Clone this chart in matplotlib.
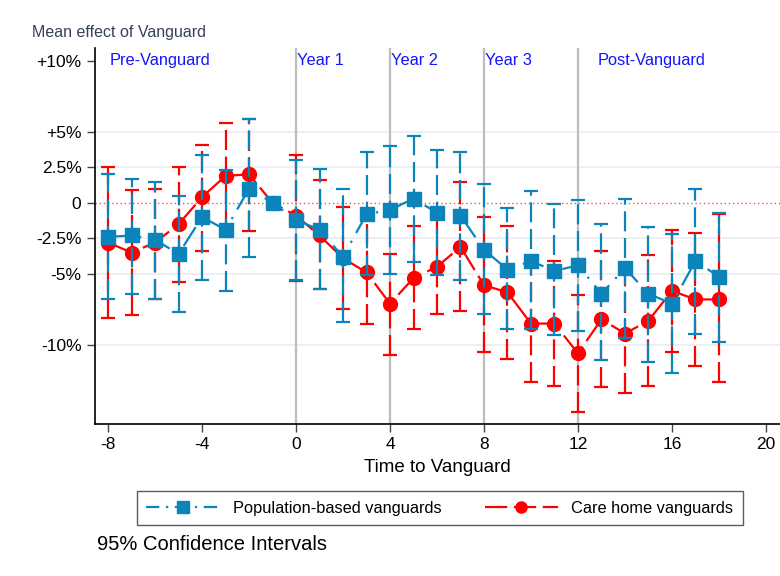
import numpy as np
import matplotlib
matplotlib.use("Agg")
from matplotlib import pyplot as plt
from matplotlib.lines import Line2D

plt.rcParams['font.family'] = ['Liberation Sans', 'DejaVu Sans']
plt.rcParams['axes.unicode_minus'] = False

# event time relative to vanguard start
time = [-8, -7, -6, -5, -4, -3, -2, -1, 0, 1, 2, 3, 4, 5, 6, 7, 8, 9, 10, 11, 12, 13, 14, 15, 16, 17, 18]

# population-based vanguards (%), with 95% CI
pop_est = [-2.4, -2.3, -2.6, -3.6, -1.0, -1.9, 1.0, 0.0, -1.2, -1.9, -3.8, -0.8, -0.5, 0.3, -0.7, -0.9,
           -3.3, -4.7, -4.1, -4.8, -4.4, -6.4, -4.6, -6.4, -7.1, -4.1, -5.2]
pop_lo = [-6.8, -6.4, -6.8, -7.7, -5.4, -6.2, -3.8, 0.0, -5.4, -6.1, -8.4, -5.1, -5.0, -4.2, -5.1, -5.4,
          -7.8, -8.9, -8.9, -9.3, -9.0, -11.1, -9.5, -11.2, -12.0, -9.2, -9.8]
pop_hi = [2.0, 1.7, 1.5, 0.5, 3.4, 2.3, 5.9, 0.0, 3.0, 2.4, 1.0, 3.6, 4.0, 4.7, 3.7, 3.6,
          1.3, -0.4, 0.8, -0.1, 0.2, -1.5, 0.3, -1.7, -2.2, 1.0, -0.7]

# care home vanguards (%), with 95% CI
care_est = [-2.8, -3.5, -2.8, -1.5, 0.4, 1.9, 2.0, 0.0, -0.9, -2.3, -3.9, -4.9, -7.1, -5.3, -4.5, -3.1,
            -5.8, -6.3, -8.5, -8.5, -10.6, -8.2, -9.2, -8.3, -6.2, -6.8, -6.8]
care_lo = [-8.1, -7.9, -6.8, -5.6, -3.4, -1.9, -2.0, 0.0, -5.5, -6.1, -7.5, -8.5, -10.7, -8.9, -7.8, -7.6,
           -10.5, -11.0, -12.6, -12.9, -14.7, -13.0, -13.4, -12.9, -10.5, -11.5, -12.6]
care_hi = [2.5, 0.9, 1.0, 2.5, 4.1, 5.6, 5.9, 0.0, 3.4, 1.6, -0.3, -1.2, -3.6, -1.6, -1.1, 1.5,
           -1.0, -1.6, -4.4, -4.1, -6.5, -3.4, -4.9, -3.7, -1.9, -2.1, -0.8]

yticks = [10, 5, 2.5, 0, -2.5, -5, -10]
ytick_labels = ['+10%', '+5%', '2.5%', '0', '-2.5%', '-5%', '-10%']
xticks = [-8, -4, 0, 4, 8, 12, 16, 20]
period_starts = [0, 4, 8, 12]
period_labels = ['Pre-Vanguard', 'Year 1', 'Year 2', 'Year 3', 'Post-Vanguard']
period_label_x = [-8, 0, 4, 8, 12.8]

blue = '#0a84ba'
red = '#ff0000'

fig = plt.figure(figsize=(7.8, 5.76), dpi=100)
ax = fig.add_axes([0.1214, 0.2644, 0.8786, 0.6523])

for y in [5, 2.5, -2.5, -5, -10]:
    ax.axhline(y, color='#e6eef1', lw=1.2, zorder=0)
for x in period_starts:
    ax.axvline(x, color='#bdbdbd', lw=1.6, zorder=1)
ax.axhline(0, color='#ff5050', lw=1, ls=(0, (1, 2)), zorder=1)

t = np.array(time)
mask = t != -1

def draw_series(est, lo, hi, color, marker, ms, line_ls, err_ls, z):
    est = np.array(est)
    lo = np.array(lo)
    hi = np.array(hi)
    yerr = np.vstack([est - lo, hi - est])
    eb = ax.errorbar(t[mask], est[mask], yerr=yerr[:, mask], fmt='none', ecolor=color,
                     elinewidth=1.6, capsize=5, capthick=1.6, zorder=z)
    eb[2][0].set_linestyle(err_ls)
    ax.plot(t, est, color=color, lw=1.6, ls=line_ls, marker=marker, ms=ms, zorder=z + 1)

draw_series(care_est, care_lo, care_hi, red, 'o', 10, (0, (14, 3)), (0, (9, 3)), 3)
draw_series(pop_est, pop_lo, pop_hi, blue, 's', 10, (0, (10, 4, 1, 4)), (0, (9, 3)), 5)

for xl, lab in zip(period_label_x, period_labels):
    ax.text(xl + 0.05, 10, lab, color='#1414ff', fontsize=11.8, va='center', ha='left')

ax.set_xlim(-8.57, 20.6)
ax.set_ylim(-15.55, 10.9)
ax.set_xticks(xticks)
ax.set_yticks(yticks)
ax.set_yticklabels(ytick_labels)
ax.tick_params(labelsize=12.5, length=6, width=1, color='#444444')
ax.set_xlabel('Time to Vanguard', fontsize=13.5, labelpad=5)
for s in ['top', 'right']:
    ax.spines[s].set_visible(False)
for s in ['left', 'bottom']:
    ax.spines[s].set_linewidth(1.2)

fig.text(0.041, 0.943, 'Mean effect of Vanguard', fontsize=11.5, color='#35405e', va='center')

handles = [
    Line2D([0], [0], color=blue, lw=1.6, ls=(0, (6, 3, 1, 3)), marker='s', ms=8),
    Line2D([0], [0], color=red, lw=1.6, ls=(0, (10, 3)), marker='o', ms=8),
]
leg = fig.legend(handles, ['Population-based vanguards', 'Care home vanguards'],
                 loc='center', bbox_to_anchor=(0.564, 0.118), ncol=2, frameon=True, fancybox=False,
                 fontsize=11.8, handlelength=4.5, columnspacing=2.6, borderpad=0.6, edgecolor='#333333')
leg.get_frame().set_linewidth(1.0)

fig.text(0.124, 0.054, '95% Confidence Intervals', fontsize=14.5, va='center')

fig.savefig('out.png', dpi=100)
